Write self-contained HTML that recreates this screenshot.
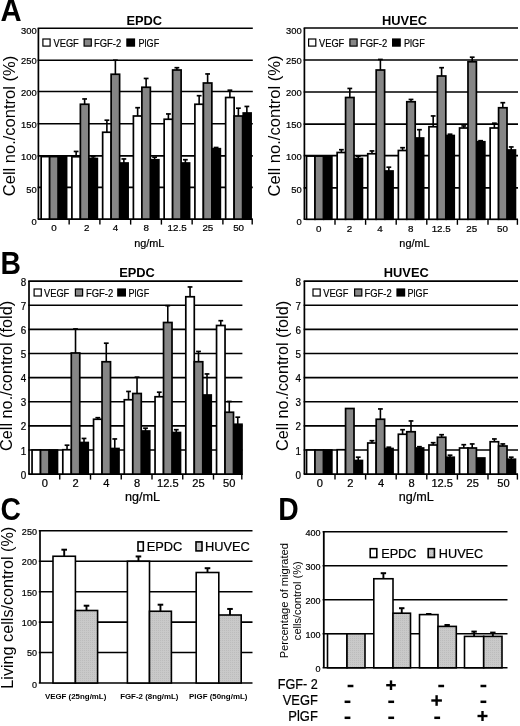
<!DOCTYPE html>
<html><head><meta charset="utf-8"><title>Figure</title>
<style>html,body{margin:0;padding:0;background:#fff}svg{display:block;filter:blur(0.3px)}text{font-family:"Liberation Sans",sans-serif;fill:#000}</style>
</head><body>
<svg width="520" height="726" viewBox="0 0 520 726">
<rect x="0" y="0" width="520" height="726" fill="#fff"/>
<defs><pattern id="dots" width="2" height="2" patternUnits="userSpaceOnUse"><rect width="2" height="2" fill="#c9c9c9"/><rect width="1" height="1" fill="#bcbcbc"/></pattern></defs>
<text x="0" y="0" font-size="29.2" text-anchor="start" font-weight="bold" transform="translate(0.40 20.90) scale(1.0 1.09)">A</text>
<text x="0" y="0" font-size="28.3" text-anchor="start" font-weight="bold" transform="translate(0.50 274.20) scale(1.0 1.13)">B</text>
<text x="0" y="0" font-size="28.3" text-anchor="start" font-weight="bold" transform="translate(0.40 519.70) scale(1.0 1.13)">C</text>
<text x="0" y="0" font-size="28.3" text-anchor="start" font-weight="bold" transform="translate(278.20 519.90) scale(1.0 1.13)">D</text>
<line x1="37.65" y1="28.30" x2="252.80" y2="28.30" stroke="#000" stroke-width="1.6"/>
<text x="0" y="0" font-size="9.9" text-anchor="end" stroke="#000" stroke-width="0.22" transform="translate(36.70 33.84) scale(0.95 1.0)">300</text>
<line x1="37.65" y1="60.20" x2="252.80" y2="60.20" stroke="#000" stroke-width="1.6"/>
<text x="0" y="0" font-size="9.9" text-anchor="end" stroke="#000" stroke-width="0.22" transform="translate(36.70 64.04) scale(0.95 1.0)">250</text>
<line x1="37.65" y1="91.50" x2="252.80" y2="91.50" stroke="#000" stroke-width="1.6"/>
<text x="0" y="0" font-size="9.9" text-anchor="end" stroke="#000" stroke-width="0.22" transform="translate(36.70 96.34) scale(0.95 1.0)">200</text>
<line x1="37.65" y1="123.70" x2="252.80" y2="123.70" stroke="#000" stroke-width="1.6"/>
<text x="0" y="0" font-size="9.9" text-anchor="end" stroke="#000" stroke-width="0.22" transform="translate(36.70 127.64) scale(0.95 1.0)">150</text>
<line x1="37.65" y1="155.90" x2="252.80" y2="155.90" stroke="#000" stroke-width="1.6"/>
<text x="0" y="0" font-size="9.9" text-anchor="end" stroke="#000" stroke-width="0.22" transform="translate(36.70 160.24) scale(0.95 1.0)">100</text>
<line x1="37.65" y1="187.40" x2="252.80" y2="187.40" stroke="#000" stroke-width="1.6"/>
<text x="0" y="0" font-size="9.9" text-anchor="end" stroke="#000" stroke-width="0.22" transform="translate(36.70 192.74) scale(0.95 1.0)">50</text>
<line x1="37.65" y1="219.10" x2="252.80" y2="219.10" stroke="#000" stroke-width="1.6"/>
<text x="0" y="0" font-size="9.9" text-anchor="end" stroke="#000" stroke-width="0.22" transform="translate(36.70 225.04) scale(0.95 1.0)">0</text>
<line x1="38.40" y1="28.30" x2="38.40" y2="219.10" stroke="#000" stroke-width="1.7"/>
<line x1="69.15" y1="219.10" x2="69.15" y2="224.60" stroke="#000" stroke-width="1.4"/>
<line x1="99.90" y1="219.10" x2="99.90" y2="224.60" stroke="#000" stroke-width="1.4"/>
<line x1="130.65" y1="219.10" x2="130.65" y2="224.60" stroke="#000" stroke-width="1.4"/>
<line x1="161.40" y1="219.10" x2="161.40" y2="224.60" stroke="#000" stroke-width="1.4"/>
<line x1="192.15" y1="219.10" x2="192.15" y2="224.60" stroke="#000" stroke-width="1.4"/>
<line x1="222.90" y1="219.10" x2="222.90" y2="224.60" stroke="#000" stroke-width="1.4"/>
<line x1="252.20" y1="219.10" x2="252.20" y2="224.60" stroke="#000" stroke-width="1.4"/>
<rect x="41.15" y="156.60" width="8.48" height="62.50" fill="#fff" stroke="#000" stroke-width="1.7"/>
<rect x="49.63" y="156.60" width="8.48" height="62.50" fill="#868686" stroke="#000" stroke-width="1.7"/>
<rect x="58.72" y="156.60" width="7.88" height="62.50" fill="#000" stroke="#000" stroke-width="1.7"/>
<text x="0" y="0" font-size="9.8" text-anchor="middle" stroke="#000" stroke-width="0.22" transform="translate(54.07 231.30)">0</text>
<rect x="71.90" y="156.75" width="8.48" height="62.35" fill="#fff" stroke="#000" stroke-width="1.7"/>
<rect x="80.38" y="104.25" width="8.48" height="114.85" fill="#868686" stroke="#000" stroke-width="1.7"/>
<rect x="89.47" y="158.50" width="7.88" height="60.60" fill="#000" stroke="#000" stroke-width="1.7"/>
<line x1="76.14" y1="151.25" x2="76.14" y2="156.75" stroke="#000" stroke-width="1.6"/>
<line x1="73.74" y1="151.45" x2="78.54" y2="151.45" stroke="#000" stroke-width="1.6800000000000002"/>
<line x1="84.62" y1="98.75" x2="84.62" y2="104.25" stroke="#000" stroke-width="1.6"/>
<line x1="82.22" y1="98.95" x2="87.03" y2="98.95" stroke="#000" stroke-width="1.6800000000000002"/>
<line x1="93.11" y1="156.50" x2="93.11" y2="158.50" stroke="#000" stroke-width="1.6"/>
<line x1="90.71" y1="156.70" x2="95.51" y2="156.70" stroke="#000" stroke-width="1.6800000000000002"/>
<text x="0" y="0" font-size="9.8" text-anchor="middle" stroke="#000" stroke-width="0.22" transform="translate(86.73 231.30)">2</text>
<rect x="102.65" y="132.25" width="8.48" height="86.85" fill="#fff" stroke="#000" stroke-width="1.7"/>
<rect x="111.13" y="74.25" width="8.48" height="144.85" fill="#868686" stroke="#000" stroke-width="1.7"/>
<rect x="120.22" y="163.00" width="7.88" height="56.10" fill="#000" stroke="#000" stroke-width="1.7"/>
<line x1="106.89" y1="120.00" x2="106.89" y2="132.25" stroke="#000" stroke-width="1.6"/>
<line x1="104.49" y1="120.20" x2="109.29" y2="120.20" stroke="#000" stroke-width="1.6800000000000002"/>
<line x1="115.38" y1="60.00" x2="115.38" y2="74.25" stroke="#000" stroke-width="1.6"/>
<line x1="112.97" y1="60.20" x2="117.78" y2="60.20" stroke="#000" stroke-width="1.6800000000000002"/>
<line x1="123.86" y1="158.75" x2="123.86" y2="163.00" stroke="#000" stroke-width="1.6"/>
<line x1="121.46" y1="158.95" x2="126.26" y2="158.95" stroke="#000" stroke-width="1.6800000000000002"/>
<text x="0" y="0" font-size="9.8" text-anchor="middle" stroke="#000" stroke-width="0.22" transform="translate(115.58 231.30)">4</text>
<rect x="133.40" y="116.00" width="8.48" height="103.10" fill="#fff" stroke="#000" stroke-width="1.7"/>
<rect x="141.88" y="87.25" width="8.48" height="131.85" fill="#868686" stroke="#000" stroke-width="1.7"/>
<rect x="150.97" y="159.75" width="7.88" height="59.35" fill="#000" stroke="#000" stroke-width="1.7"/>
<line x1="137.64" y1="107.50" x2="137.64" y2="116.00" stroke="#000" stroke-width="1.6"/>
<line x1="135.24" y1="107.70" x2="140.04" y2="107.70" stroke="#000" stroke-width="1.6800000000000002"/>
<line x1="146.12" y1="78.25" x2="146.12" y2="87.25" stroke="#000" stroke-width="1.6"/>
<line x1="143.72" y1="78.45" x2="148.53" y2="78.45" stroke="#000" stroke-width="1.6800000000000002"/>
<line x1="154.61" y1="157.00" x2="154.61" y2="159.75" stroke="#000" stroke-width="1.6"/>
<line x1="152.21" y1="157.20" x2="157.01" y2="157.20" stroke="#000" stroke-width="1.6800000000000002"/>
<text x="0" y="0" font-size="9.8" text-anchor="middle" stroke="#000" stroke-width="0.22" transform="translate(146.33 231.30)">8</text>
<rect x="164.15" y="119.25" width="8.48" height="99.85" fill="#fff" stroke="#000" stroke-width="1.7"/>
<rect x="172.63" y="70.00" width="8.48" height="149.10" fill="#868686" stroke="#000" stroke-width="1.7"/>
<rect x="181.72" y="163.00" width="7.88" height="56.10" fill="#000" stroke="#000" stroke-width="1.7"/>
<line x1="168.39" y1="113.75" x2="168.39" y2="119.25" stroke="#000" stroke-width="1.6"/>
<line x1="165.99" y1="113.95" x2="170.79" y2="113.95" stroke="#000" stroke-width="1.6800000000000002"/>
<line x1="176.88" y1="67.50" x2="176.88" y2="70.00" stroke="#000" stroke-width="1.6"/>
<line x1="174.47" y1="67.70" x2="179.28" y2="67.70" stroke="#000" stroke-width="1.6800000000000002"/>
<line x1="185.36" y1="159.50" x2="185.36" y2="163.00" stroke="#000" stroke-width="1.6"/>
<line x1="182.96" y1="159.70" x2="187.76" y2="159.70" stroke="#000" stroke-width="1.6800000000000002"/>
<text x="0" y="0" font-size="9.8" text-anchor="middle" stroke="#000" stroke-width="0.22" transform="translate(177.08 231.30)">12.5</text>
<rect x="194.90" y="104.25" width="8.48" height="114.85" fill="#fff" stroke="#000" stroke-width="1.7"/>
<rect x="203.38" y="83.00" width="8.48" height="136.10" fill="#868686" stroke="#000" stroke-width="1.7"/>
<rect x="212.47" y="148.70" width="7.88" height="70.40" fill="#000" stroke="#000" stroke-width="1.7"/>
<line x1="199.14" y1="95.50" x2="199.14" y2="104.25" stroke="#000" stroke-width="1.6"/>
<line x1="196.74" y1="95.70" x2="201.54" y2="95.70" stroke="#000" stroke-width="1.6800000000000002"/>
<line x1="207.62" y1="73.75" x2="207.62" y2="83.00" stroke="#000" stroke-width="1.6"/>
<line x1="205.22" y1="73.95" x2="210.03" y2="73.95" stroke="#000" stroke-width="1.6800000000000002"/>
<line x1="216.11" y1="147.30" x2="216.11" y2="148.70" stroke="#000" stroke-width="1.6"/>
<line x1="213.71" y1="147.50" x2="218.51" y2="147.50" stroke="#000" stroke-width="1.6800000000000002"/>
<text x="0" y="0" font-size="9.8" text-anchor="middle" stroke="#000" stroke-width="0.22" transform="translate(207.83 231.30)">25</text>
<rect x="225.65" y="97.50" width="8.48" height="121.60" fill="#fff" stroke="#000" stroke-width="1.7"/>
<rect x="234.13" y="116.00" width="8.48" height="103.10" fill="#868686" stroke="#000" stroke-width="1.7"/>
<rect x="243.22" y="113.00" width="7.88" height="106.10" fill="#000" stroke="#000" stroke-width="1.7"/>
<line x1="229.89" y1="90.00" x2="229.89" y2="97.50" stroke="#000" stroke-width="1.6"/>
<line x1="227.49" y1="90.20" x2="232.29" y2="90.20" stroke="#000" stroke-width="1.6800000000000002"/>
<line x1="238.38" y1="108.00" x2="238.38" y2="116.00" stroke="#000" stroke-width="1.6"/>
<line x1="235.97" y1="108.20" x2="240.78" y2="108.20" stroke="#000" stroke-width="1.6800000000000002"/>
<line x1="246.86" y1="106.25" x2="246.86" y2="113.00" stroke="#000" stroke-width="1.6"/>
<line x1="244.46" y1="106.45" x2="249.26" y2="106.45" stroke="#000" stroke-width="1.6800000000000002"/>
<text x="0" y="0" font-size="9.8" text-anchor="middle" stroke="#000" stroke-width="0.22" transform="translate(238.58 231.30)">50</text>
<line x1="303.65" y1="28.00" x2="518.00" y2="28.00" stroke="#000" stroke-width="1.6"/>
<text x="0" y="0" font-size="9.9" text-anchor="end" stroke="#000" stroke-width="0.22" transform="translate(301.70 33.84) scale(0.95 1.0)">300</text>
<line x1="303.65" y1="60.00" x2="518.00" y2="60.00" stroke="#000" stroke-width="1.6"/>
<text x="0" y="0" font-size="9.9" text-anchor="end" stroke="#000" stroke-width="0.22" transform="translate(301.70 64.04) scale(0.95 1.0)">250</text>
<line x1="303.65" y1="92.00" x2="518.00" y2="92.00" stroke="#000" stroke-width="1.6"/>
<text x="0" y="0" font-size="9.9" text-anchor="end" stroke="#000" stroke-width="0.22" transform="translate(301.70 96.34) scale(0.95 1.0)">200</text>
<line x1="303.65" y1="124.10" x2="518.00" y2="124.10" stroke="#000" stroke-width="1.6"/>
<text x="0" y="0" font-size="9.9" text-anchor="end" stroke="#000" stroke-width="0.22" transform="translate(301.70 127.64) scale(0.95 1.0)">150</text>
<line x1="303.65" y1="155.60" x2="518.00" y2="155.60" stroke="#000" stroke-width="1.6"/>
<text x="0" y="0" font-size="9.9" text-anchor="end" stroke="#000" stroke-width="0.22" transform="translate(301.70 160.24) scale(0.95 1.0)">100</text>
<line x1="303.65" y1="187.90" x2="518.00" y2="187.90" stroke="#000" stroke-width="1.6"/>
<text x="0" y="0" font-size="9.9" text-anchor="end" stroke="#000" stroke-width="0.22" transform="translate(301.70 192.74) scale(0.95 1.0)">50</text>
<line x1="303.65" y1="219.30" x2="518.00" y2="219.30" stroke="#000" stroke-width="1.6"/>
<text x="0" y="0" font-size="9.9" text-anchor="end" stroke="#000" stroke-width="0.22" transform="translate(301.70 225.04) scale(0.95 1.0)">0</text>
<line x1="304.40" y1="28.00" x2="304.40" y2="219.30" stroke="#000" stroke-width="1.7"/>
<line x1="335.00" y1="219.30" x2="335.00" y2="224.80" stroke="#000" stroke-width="1.4"/>
<line x1="365.60" y1="219.30" x2="365.60" y2="224.80" stroke="#000" stroke-width="1.4"/>
<line x1="396.20" y1="219.30" x2="396.20" y2="224.80" stroke="#000" stroke-width="1.4"/>
<line x1="426.80" y1="219.30" x2="426.80" y2="224.80" stroke="#000" stroke-width="1.4"/>
<line x1="457.40" y1="219.30" x2="457.40" y2="224.80" stroke="#000" stroke-width="1.4"/>
<line x1="488.00" y1="219.30" x2="488.00" y2="224.80" stroke="#000" stroke-width="1.4"/>
<line x1="517.40" y1="219.30" x2="517.40" y2="224.80" stroke="#000" stroke-width="1.4"/>
<rect x="306.55" y="156.10" width="8.43" height="63.20" fill="#fff" stroke="#000" stroke-width="1.7"/>
<rect x="314.98" y="156.10" width="8.43" height="63.20" fill="#868686" stroke="#000" stroke-width="1.7"/>
<rect x="324.02" y="156.10" width="7.83" height="63.20" fill="#000" stroke="#000" stroke-width="1.7"/>
<text x="0" y="0" font-size="9.8" text-anchor="middle" stroke="#000" stroke-width="0.22" transform="translate(318.80 231.60)">0</text>
<rect x="337.15" y="152.50" width="8.43" height="66.80" fill="#fff" stroke="#000" stroke-width="1.7"/>
<rect x="345.58" y="97.50" width="8.43" height="121.80" fill="#868686" stroke="#000" stroke-width="1.7"/>
<rect x="354.62" y="158.50" width="7.83" height="60.80" fill="#000" stroke="#000" stroke-width="1.7"/>
<line x1="341.37" y1="149.50" x2="341.37" y2="152.50" stroke="#000" stroke-width="1.6"/>
<line x1="338.97" y1="149.70" x2="343.77" y2="149.70" stroke="#000" stroke-width="1.6800000000000002"/>
<line x1="349.80" y1="88.25" x2="349.80" y2="97.50" stroke="#000" stroke-width="1.6"/>
<line x1="347.40" y1="88.45" x2="352.20" y2="88.45" stroke="#000" stroke-width="1.6800000000000002"/>
<line x1="358.23" y1="156.00" x2="358.23" y2="158.50" stroke="#000" stroke-width="1.6"/>
<line x1="355.83" y1="156.20" x2="360.63" y2="156.20" stroke="#000" stroke-width="1.6800000000000002"/>
<text x="0" y="0" font-size="9.8" text-anchor="middle" stroke="#000" stroke-width="0.22" transform="translate(349.40 231.60)">2</text>
<rect x="367.75" y="153.75" width="8.43" height="65.55" fill="#fff" stroke="#000" stroke-width="1.7"/>
<rect x="376.18" y="70.00" width="8.43" height="149.30" fill="#868686" stroke="#000" stroke-width="1.7"/>
<rect x="385.22" y="171.00" width="7.83" height="48.30" fill="#000" stroke="#000" stroke-width="1.7"/>
<line x1="371.97" y1="150.75" x2="371.97" y2="153.75" stroke="#000" stroke-width="1.6"/>
<line x1="369.57" y1="150.95" x2="374.37" y2="150.95" stroke="#000" stroke-width="1.6800000000000002"/>
<line x1="380.40" y1="59.25" x2="380.40" y2="70.00" stroke="#000" stroke-width="1.6"/>
<line x1="378.00" y1="59.45" x2="382.80" y2="59.45" stroke="#000" stroke-width="1.6800000000000002"/>
<line x1="388.83" y1="167.00" x2="388.83" y2="171.00" stroke="#000" stroke-width="1.6"/>
<line x1="386.43" y1="167.20" x2="391.23" y2="167.20" stroke="#000" stroke-width="1.6800000000000002"/>
<text x="0" y="0" font-size="9.8" text-anchor="middle" stroke="#000" stroke-width="0.22" transform="translate(380.00 231.60)">4</text>
<rect x="398.35" y="150.50" width="8.43" height="68.80" fill="#fff" stroke="#000" stroke-width="1.7"/>
<rect x="406.78" y="101.75" width="8.43" height="117.55" fill="#868686" stroke="#000" stroke-width="1.7"/>
<rect x="415.82" y="138.00" width="7.83" height="81.30" fill="#000" stroke="#000" stroke-width="1.7"/>
<line x1="402.57" y1="147.50" x2="402.57" y2="150.50" stroke="#000" stroke-width="1.6"/>
<line x1="400.17" y1="147.70" x2="404.97" y2="147.70" stroke="#000" stroke-width="1.6800000000000002"/>
<line x1="411.00" y1="99.25" x2="411.00" y2="101.75" stroke="#000" stroke-width="1.6"/>
<line x1="408.60" y1="99.45" x2="413.40" y2="99.45" stroke="#000" stroke-width="1.6800000000000002"/>
<line x1="419.43" y1="129.50" x2="419.43" y2="138.00" stroke="#000" stroke-width="1.6"/>
<line x1="417.03" y1="129.70" x2="421.83" y2="129.70" stroke="#000" stroke-width="1.6800000000000002"/>
<text x="0" y="0" font-size="9.8" text-anchor="middle" stroke="#000" stroke-width="0.22" transform="translate(410.60 231.60)">8</text>
<rect x="428.95" y="126.75" width="8.43" height="92.55" fill="#fff" stroke="#000" stroke-width="1.7"/>
<rect x="437.38" y="76.00" width="8.43" height="143.30" fill="#868686" stroke="#000" stroke-width="1.7"/>
<rect x="446.42" y="135.50" width="7.83" height="83.80" fill="#000" stroke="#000" stroke-width="1.7"/>
<line x1="433.17" y1="115.75" x2="433.17" y2="126.75" stroke="#000" stroke-width="1.6"/>
<line x1="430.77" y1="115.95" x2="435.57" y2="115.95" stroke="#000" stroke-width="1.6800000000000002"/>
<line x1="441.60" y1="67.50" x2="441.60" y2="76.00" stroke="#000" stroke-width="1.6"/>
<line x1="439.20" y1="67.70" x2="444.00" y2="67.70" stroke="#000" stroke-width="1.6800000000000002"/>
<line x1="450.03" y1="134.00" x2="450.03" y2="135.50" stroke="#000" stroke-width="1.6"/>
<line x1="447.63" y1="134.20" x2="452.43" y2="134.20" stroke="#000" stroke-width="1.6800000000000002"/>
<text x="0" y="0" font-size="9.8" text-anchor="middle" stroke="#000" stroke-width="0.22" transform="translate(441.20 231.60)">12.5</text>
<rect x="459.55" y="128.00" width="8.43" height="91.30" fill="#fff" stroke="#000" stroke-width="1.7"/>
<rect x="467.98" y="61.75" width="8.43" height="157.55" fill="#868686" stroke="#000" stroke-width="1.7"/>
<rect x="477.02" y="141.75" width="7.83" height="77.55" fill="#000" stroke="#000" stroke-width="1.7"/>
<line x1="463.77" y1="125.75" x2="463.77" y2="128.00" stroke="#000" stroke-width="1.6"/>
<line x1="461.37" y1="125.95" x2="466.17" y2="125.95" stroke="#000" stroke-width="1.6800000000000002"/>
<line x1="472.20" y1="57.00" x2="472.20" y2="61.75" stroke="#000" stroke-width="1.6"/>
<line x1="469.80" y1="57.20" x2="474.60" y2="57.20" stroke="#000" stroke-width="1.6800000000000002"/>
<line x1="480.63" y1="140.50" x2="480.63" y2="141.75" stroke="#000" stroke-width="1.6"/>
<line x1="478.23" y1="140.70" x2="483.03" y2="140.70" stroke="#000" stroke-width="1.6800000000000002"/>
<text x="0" y="0" font-size="9.8" text-anchor="middle" stroke="#000" stroke-width="0.22" transform="translate(471.80 231.60)">25</text>
<rect x="490.15" y="128.00" width="8.43" height="91.30" fill="#fff" stroke="#000" stroke-width="1.7"/>
<rect x="498.58" y="107.75" width="8.43" height="111.55" fill="#868686" stroke="#000" stroke-width="1.7"/>
<rect x="507.62" y="150.00" width="7.83" height="69.30" fill="#000" stroke="#000" stroke-width="1.7"/>
<line x1="494.37" y1="123.00" x2="494.37" y2="128.00" stroke="#000" stroke-width="1.6"/>
<line x1="491.97" y1="123.20" x2="496.77" y2="123.20" stroke="#000" stroke-width="1.6800000000000002"/>
<line x1="502.80" y1="102.50" x2="502.80" y2="107.75" stroke="#000" stroke-width="1.6"/>
<line x1="500.40" y1="102.70" x2="505.20" y2="102.70" stroke="#000" stroke-width="1.6800000000000002"/>
<line x1="511.23" y1="146.75" x2="511.23" y2="150.00" stroke="#000" stroke-width="1.6"/>
<line x1="508.83" y1="146.95" x2="513.63" y2="146.95" stroke="#000" stroke-width="1.6800000000000002"/>
<text x="0" y="0" font-size="9.8" text-anchor="middle" stroke="#000" stroke-width="0.22" transform="translate(502.40 231.60)">50</text>
<text x="0" y="0" font-size="13.4" text-anchor="middle" font-weight="bold" transform="translate(144.30 25.00) scale(0.96 1.0)">EPDC</text>
<text x="0" y="0" font-size="13.4" text-anchor="middle" font-weight="bold" transform="translate(404.50 25.00) scale(0.96 1.0)">HUVEC</text>
<text x="0" y="0" font-size="13.4" text-anchor="middle" font-weight="bold" transform="translate(137.00 276.60) scale(0.96 1.0)">EPDC</text>
<text x="0" y="0" font-size="13.4" text-anchor="middle" font-weight="bold" transform="translate(406.30 276.60) scale(0.96 1.0)">HUVEC</text>
<rect x="42.90" y="39.00" width="7.20" height="7.10" fill="#fff" stroke="#000" stroke-width="1.2"/>
<text x="53.50" y="46.60" font-size="10.6" textLength="25.3" lengthAdjust="spacingAndGlyphs" stroke="#000" stroke-width="0.2">VEGF</text>
<rect x="84.10" y="39.00" width="7.20" height="7.10" fill="#868686" stroke="#000" stroke-width="1.2"/>
<text x="94.00" y="46.60" font-size="10.6" textLength="27.2" lengthAdjust="spacingAndGlyphs" stroke="#000" stroke-width="0.2">FGF-2</text>
<rect x="126.90" y="39.00" width="7.60" height="7.10" fill="#000" stroke="#000" stroke-width="1.2"/>
<text x="138.50" y="46.60" font-size="10.6" textLength="20.7" lengthAdjust="spacingAndGlyphs" stroke="#000" stroke-width="0.2">PlGF</text>
<rect x="308.60" y="39.00" width="7.20" height="7.10" fill="#fff" stroke="#000" stroke-width="1.2"/>
<text x="319.00" y="46.60" font-size="10.6" textLength="25.3" lengthAdjust="spacingAndGlyphs" stroke="#000" stroke-width="0.2">VEGF</text>
<rect x="349.90" y="39.00" width="7.20" height="7.10" fill="#868686" stroke="#000" stroke-width="1.2"/>
<text x="360.00" y="46.60" font-size="10.6" textLength="27.2" lengthAdjust="spacingAndGlyphs" stroke="#000" stroke-width="0.2">FGF-2</text>
<rect x="392.60" y="39.00" width="7.60" height="7.10" fill="#000" stroke="#000" stroke-width="1.2"/>
<text x="404.00" y="46.60" font-size="10.6" textLength="20.7" lengthAdjust="spacingAndGlyphs" stroke="#000" stroke-width="0.2">PlGF</text>
<rect x="34.10" y="289.00" width="7.20" height="7.00" fill="#fff" stroke="#000" stroke-width="1.2"/>
<text x="44.00" y="296.50" font-size="10.6" textLength="25.3" lengthAdjust="spacingAndGlyphs" stroke="#000" stroke-width="0.2">VEGF</text>
<rect x="75.40" y="289.00" width="7.20" height="7.00" fill="#868686" stroke="#000" stroke-width="1.2"/>
<text x="86.00" y="296.50" font-size="10.6" textLength="27.2" lengthAdjust="spacingAndGlyphs" stroke="#000" stroke-width="0.2">FGF-2</text>
<rect x="117.80" y="289.00" width="7.60" height="7.00" fill="#000" stroke="#000" stroke-width="1.2"/>
<text x="128.50" y="296.50" font-size="10.6" textLength="20.7" lengthAdjust="spacingAndGlyphs" stroke="#000" stroke-width="0.2">PlGF</text>
<rect x="313.00" y="289.00" width="7.20" height="7.00" fill="#fff" stroke="#000" stroke-width="1.2"/>
<text x="323.20" y="296.50" font-size="10.6" textLength="25.3" lengthAdjust="spacingAndGlyphs" stroke="#000" stroke-width="0.2">VEGF</text>
<rect x="354.60" y="289.00" width="7.20" height="7.00" fill="#868686" stroke="#000" stroke-width="1.2"/>
<text x="364.50" y="296.50" font-size="10.6" textLength="27.2" lengthAdjust="spacingAndGlyphs" stroke="#000" stroke-width="0.2">FGF-2</text>
<rect x="397.00" y="289.00" width="7.60" height="7.00" fill="#000" stroke="#000" stroke-width="1.2"/>
<text x="407.50" y="296.50" font-size="10.6" textLength="20.7" lengthAdjust="spacingAndGlyphs" stroke="#000" stroke-width="0.2">PlGF</text>
<text x="0" y="0" font-size="10.9" text-anchor="middle" stroke="#000" stroke-width="0.22" transform="translate(149.30 246.70)">ng/mL</text>
<text x="0" y="0" font-size="10.9" text-anchor="middle" stroke="#000" stroke-width="0.22" transform="translate(414.50 246.90)">ng/mL</text>
<text x="0" y="0" font-size="12.6" text-anchor="middle" stroke="#000" stroke-width="0.22" transform="translate(142.50 501.00)">ng/mL</text>
<text x="0" y="0" font-size="12.6" text-anchor="middle" stroke="#000" stroke-width="0.22" transform="translate(416.20 501.00)">ng/mL</text>
<text x="0" y="0" font-size="16.5" text-anchor="middle" transform="translate(14.80 126.00) rotate(-90)">Cell no./control (%)</text>
<text x="0" y="0" font-size="16.6" text-anchor="middle" transform="translate(280.10 125.90) rotate(-90)">Cell no./control (%)</text>
<text x="0" y="0" font-size="16.3" text-anchor="middle" transform="translate(12.40 375.90) rotate(-90)">Cell no./control (fold)</text>
<text x="0" y="0" font-size="16.3" text-anchor="middle" transform="translate(287.70 375.90) rotate(-90)">Cell no./control (fold)</text>
<line x1="28.25" y1="281.10" x2="242.40" y2="281.10" stroke="#000" stroke-width="1.6"/>
<text x="0" y="0" font-size="10.4" text-anchor="end" stroke="#000" stroke-width="0.22" transform="translate(26.30 285.62) scale(0.95 1.0)">8</text>
<line x1="28.25" y1="305.23" x2="242.40" y2="305.23" stroke="#000" stroke-width="1.6"/>
<text x="0" y="0" font-size="10.4" text-anchor="end" stroke="#000" stroke-width="0.22" transform="translate(26.30 309.75) scale(0.95 1.0)">7</text>
<line x1="28.25" y1="329.35" x2="242.40" y2="329.35" stroke="#000" stroke-width="1.6"/>
<text x="0" y="0" font-size="10.4" text-anchor="end" stroke="#000" stroke-width="0.22" transform="translate(26.30 333.87) scale(0.95 1.0)">6</text>
<line x1="28.25" y1="353.48" x2="242.40" y2="353.48" stroke="#000" stroke-width="1.6"/>
<text x="0" y="0" font-size="10.4" text-anchor="end" stroke="#000" stroke-width="0.22" transform="translate(26.30 358.00) scale(0.95 1.0)">5</text>
<line x1="28.25" y1="377.60" x2="242.40" y2="377.60" stroke="#000" stroke-width="1.6"/>
<text x="0" y="0" font-size="10.4" text-anchor="end" stroke="#000" stroke-width="0.22" transform="translate(26.30 382.12) scale(0.95 1.0)">4</text>
<line x1="28.25" y1="401.73" x2="242.40" y2="401.73" stroke="#000" stroke-width="1.6"/>
<text x="0" y="0" font-size="10.4" text-anchor="end" stroke="#000" stroke-width="0.22" transform="translate(26.30 406.25) scale(0.95 1.0)">3</text>
<line x1="28.25" y1="425.85" x2="242.40" y2="425.85" stroke="#000" stroke-width="1.6"/>
<text x="0" y="0" font-size="10.4" text-anchor="end" stroke="#000" stroke-width="0.22" transform="translate(26.30 430.37) scale(0.95 1.0)">2</text>
<line x1="28.25" y1="449.98" x2="242.40" y2="449.98" stroke="#000" stroke-width="1.6"/>
<text x="0" y="0" font-size="10.4" text-anchor="end" stroke="#000" stroke-width="0.22" transform="translate(26.30 454.50) scale(0.95 1.0)">1</text>
<line x1="28.25" y1="474.10" x2="242.40" y2="474.10" stroke="#000" stroke-width="1.6"/>
<text x="0" y="0" font-size="10.4" text-anchor="end" stroke="#000" stroke-width="0.22" transform="translate(26.30 478.62) scale(0.95 1.0)">0</text>
<line x1="29.00" y1="281.10" x2="29.00" y2="474.10" stroke="#000" stroke-width="1.7"/>
<line x1="59.75" y1="474.10" x2="59.75" y2="479.60" stroke="#000" stroke-width="1.4"/>
<line x1="90.50" y1="474.10" x2="90.50" y2="479.60" stroke="#000" stroke-width="1.4"/>
<line x1="121.25" y1="474.10" x2="121.25" y2="479.60" stroke="#000" stroke-width="1.4"/>
<line x1="152.00" y1="474.10" x2="152.00" y2="479.60" stroke="#000" stroke-width="1.4"/>
<line x1="182.75" y1="474.10" x2="182.75" y2="479.60" stroke="#000" stroke-width="1.4"/>
<line x1="213.50" y1="474.10" x2="213.50" y2="479.60" stroke="#000" stroke-width="1.4"/>
<line x1="241.80" y1="474.10" x2="241.80" y2="479.60" stroke="#000" stroke-width="1.4"/>
<rect x="32.05" y="450.00" width="8.48" height="24.10" fill="#fff" stroke="#000" stroke-width="1.7"/>
<rect x="40.53" y="450.00" width="8.48" height="24.10" fill="#868686" stroke="#000" stroke-width="1.7"/>
<rect x="49.62" y="450.00" width="7.88" height="24.10" fill="#000" stroke="#000" stroke-width="1.7"/>
<text x="0" y="0" font-size="10.3" text-anchor="middle" stroke="#000" stroke-width="0.22" transform="translate(44.77 486.70) scale(1.08 1.0)">0</text>
<rect x="62.80" y="449.75" width="8.48" height="24.35" fill="#fff" stroke="#000" stroke-width="1.7"/>
<rect x="71.28" y="353.00" width="8.48" height="121.10" fill="#868686" stroke="#000" stroke-width="1.7"/>
<rect x="80.37" y="442.50" width="7.88" height="31.60" fill="#000" stroke="#000" stroke-width="1.7"/>
<line x1="67.04" y1="445.00" x2="67.04" y2="449.75" stroke="#000" stroke-width="1.6"/>
<line x1="64.64" y1="445.20" x2="69.44" y2="445.20" stroke="#000" stroke-width="1.6800000000000002"/>
<line x1="75.52" y1="328.75" x2="75.52" y2="353.00" stroke="#000" stroke-width="1.6"/>
<line x1="73.12" y1="328.95" x2="77.92" y2="328.95" stroke="#000" stroke-width="1.6800000000000002"/>
<line x1="84.01" y1="438.25" x2="84.01" y2="442.50" stroke="#000" stroke-width="1.6"/>
<line x1="81.61" y1="438.45" x2="86.41" y2="438.45" stroke="#000" stroke-width="1.6800000000000002"/>
<text x="0" y="0" font-size="10.3" text-anchor="middle" stroke="#000" stroke-width="0.22" transform="translate(75.53 486.70) scale(1.08 1.0)">2</text>
<rect x="93.55" y="419.25" width="8.48" height="54.85" fill="#fff" stroke="#000" stroke-width="1.7"/>
<rect x="102.03" y="361.75" width="8.48" height="112.35" fill="#868686" stroke="#000" stroke-width="1.7"/>
<rect x="111.12" y="448.50" width="7.88" height="25.60" fill="#000" stroke="#000" stroke-width="1.7"/>
<line x1="97.79" y1="417.50" x2="97.79" y2="419.25" stroke="#000" stroke-width="1.6"/>
<line x1="95.39" y1="417.70" x2="100.19" y2="417.70" stroke="#000" stroke-width="1.6800000000000002"/>
<line x1="106.27" y1="343.00" x2="106.27" y2="361.75" stroke="#000" stroke-width="1.6"/>
<line x1="103.87" y1="343.20" x2="108.67" y2="343.20" stroke="#000" stroke-width="1.6800000000000002"/>
<line x1="114.76" y1="438.75" x2="114.76" y2="448.50" stroke="#000" stroke-width="1.6"/>
<line x1="112.36" y1="438.95" x2="117.16" y2="438.95" stroke="#000" stroke-width="1.6800000000000002"/>
<text x="0" y="0" font-size="10.3" text-anchor="middle" stroke="#000" stroke-width="0.22" transform="translate(106.28 486.70) scale(1.08 1.0)">4</text>
<rect x="124.30" y="399.75" width="8.48" height="74.35" fill="#fff" stroke="#000" stroke-width="1.7"/>
<rect x="132.78" y="393.50" width="8.48" height="80.60" fill="#868686" stroke="#000" stroke-width="1.7"/>
<rect x="141.87" y="431.00" width="7.88" height="43.10" fill="#000" stroke="#000" stroke-width="1.7"/>
<line x1="128.54" y1="391.25" x2="128.54" y2="399.75" stroke="#000" stroke-width="1.6"/>
<line x1="126.14" y1="391.45" x2="130.94" y2="391.45" stroke="#000" stroke-width="1.6800000000000002"/>
<line x1="137.03" y1="377.00" x2="137.03" y2="393.50" stroke="#000" stroke-width="1.6"/>
<line x1="134.62" y1="377.20" x2="139.43" y2="377.20" stroke="#000" stroke-width="1.6800000000000002"/>
<line x1="145.51" y1="428.00" x2="145.51" y2="431.00" stroke="#000" stroke-width="1.6"/>
<line x1="143.11" y1="428.20" x2="147.91" y2="428.20" stroke="#000" stroke-width="1.6800000000000002"/>
<text x="0" y="0" font-size="10.3" text-anchor="middle" stroke="#000" stroke-width="0.22" transform="translate(137.03 486.70) scale(1.08 1.0)">8</text>
<rect x="155.05" y="396.75" width="8.48" height="77.35" fill="#fff" stroke="#000" stroke-width="1.7"/>
<rect x="163.53" y="322.50" width="8.48" height="151.60" fill="#868686" stroke="#000" stroke-width="1.7"/>
<rect x="172.62" y="432.50" width="7.88" height="41.60" fill="#000" stroke="#000" stroke-width="1.7"/>
<line x1="159.29" y1="392.00" x2="159.29" y2="396.75" stroke="#000" stroke-width="1.6"/>
<line x1="156.89" y1="392.20" x2="161.69" y2="392.20" stroke="#000" stroke-width="1.6800000000000002"/>
<line x1="167.77" y1="305.50" x2="167.77" y2="322.50" stroke="#000" stroke-width="1.6"/>
<line x1="165.37" y1="305.70" x2="170.17" y2="305.70" stroke="#000" stroke-width="1.6800000000000002"/>
<line x1="176.26" y1="429.50" x2="176.26" y2="432.50" stroke="#000" stroke-width="1.6"/>
<line x1="173.86" y1="429.70" x2="178.66" y2="429.70" stroke="#000" stroke-width="1.6800000000000002"/>
<text x="0" y="0" font-size="10.3" text-anchor="middle" stroke="#000" stroke-width="0.22" transform="translate(167.78 486.70) scale(1.08 1.0)">12.5</text>
<rect x="185.80" y="296.75" width="8.48" height="177.35" fill="#fff" stroke="#000" stroke-width="1.7"/>
<rect x="194.28" y="361.75" width="8.48" height="112.35" fill="#868686" stroke="#000" stroke-width="1.7"/>
<rect x="203.37" y="395.00" width="7.88" height="79.10" fill="#000" stroke="#000" stroke-width="1.7"/>
<line x1="190.04" y1="286.75" x2="190.04" y2="296.75" stroke="#000" stroke-width="1.6"/>
<line x1="187.64" y1="286.95" x2="192.44" y2="286.95" stroke="#000" stroke-width="1.6800000000000002"/>
<line x1="198.52" y1="351.25" x2="198.52" y2="361.75" stroke="#000" stroke-width="1.6"/>
<line x1="196.12" y1="351.45" x2="200.92" y2="351.45" stroke="#000" stroke-width="1.6800000000000002"/>
<line x1="207.01" y1="373.75" x2="207.01" y2="395.00" stroke="#000" stroke-width="1.6"/>
<line x1="204.61" y1="373.95" x2="209.41" y2="373.95" stroke="#000" stroke-width="1.6800000000000002"/>
<text x="0" y="0" font-size="10.3" text-anchor="middle" stroke="#000" stroke-width="0.22" transform="translate(198.53 486.70) scale(1.08 1.0)">25</text>
<rect x="216.55" y="325.50" width="8.48" height="148.60" fill="#fff" stroke="#000" stroke-width="1.7"/>
<rect x="225.03" y="412.25" width="8.48" height="61.85" fill="#868686" stroke="#000" stroke-width="1.7"/>
<rect x="234.12" y="424.25" width="7.88" height="49.85" fill="#000" stroke="#000" stroke-width="1.7"/>
<line x1="220.79" y1="320.50" x2="220.79" y2="325.50" stroke="#000" stroke-width="1.6"/>
<line x1="218.39" y1="320.70" x2="223.19" y2="320.70" stroke="#000" stroke-width="1.6800000000000002"/>
<line x1="229.27" y1="401.25" x2="229.27" y2="412.25" stroke="#000" stroke-width="1.6"/>
<line x1="226.87" y1="401.45" x2="231.67" y2="401.45" stroke="#000" stroke-width="1.6800000000000002"/>
<line x1="237.76" y1="417.00" x2="237.76" y2="424.25" stroke="#000" stroke-width="1.6"/>
<line x1="235.36" y1="417.20" x2="240.16" y2="417.20" stroke="#000" stroke-width="1.6800000000000002"/>
<text x="0" y="0" font-size="10.3" text-anchor="middle" stroke="#000" stroke-width="0.22" transform="translate(229.28 486.70) scale(1.08 1.0)">50</text>
<line x1="303.65" y1="281.10" x2="518.00" y2="281.10" stroke="#000" stroke-width="1.6"/>
<text x="0" y="0" font-size="10.4" text-anchor="end" stroke="#000" stroke-width="0.22" transform="translate(301.00 285.62) scale(0.95 1.0)">8</text>
<line x1="303.65" y1="305.23" x2="518.00" y2="305.23" stroke="#000" stroke-width="1.6"/>
<text x="0" y="0" font-size="10.4" text-anchor="end" stroke="#000" stroke-width="0.22" transform="translate(301.00 309.75) scale(0.95 1.0)">7</text>
<line x1="303.65" y1="329.35" x2="518.00" y2="329.35" stroke="#000" stroke-width="1.6"/>
<text x="0" y="0" font-size="10.4" text-anchor="end" stroke="#000" stroke-width="0.22" transform="translate(301.00 333.87) scale(0.95 1.0)">6</text>
<line x1="303.65" y1="353.48" x2="518.00" y2="353.48" stroke="#000" stroke-width="1.6"/>
<text x="0" y="0" font-size="10.4" text-anchor="end" stroke="#000" stroke-width="0.22" transform="translate(301.00 358.00) scale(0.95 1.0)">5</text>
<line x1="303.65" y1="377.60" x2="518.00" y2="377.60" stroke="#000" stroke-width="1.6"/>
<text x="0" y="0" font-size="10.4" text-anchor="end" stroke="#000" stroke-width="0.22" transform="translate(301.00 382.12) scale(0.95 1.0)">4</text>
<line x1="303.65" y1="401.73" x2="518.00" y2="401.73" stroke="#000" stroke-width="1.6"/>
<text x="0" y="0" font-size="10.4" text-anchor="end" stroke="#000" stroke-width="0.22" transform="translate(301.00 406.25) scale(0.95 1.0)">3</text>
<line x1="303.65" y1="425.85" x2="518.00" y2="425.85" stroke="#000" stroke-width="1.6"/>
<text x="0" y="0" font-size="10.4" text-anchor="end" stroke="#000" stroke-width="0.22" transform="translate(301.00 430.37) scale(0.95 1.0)">2</text>
<line x1="303.65" y1="449.98" x2="518.00" y2="449.98" stroke="#000" stroke-width="1.6"/>
<text x="0" y="0" font-size="10.4" text-anchor="end" stroke="#000" stroke-width="0.22" transform="translate(301.00 454.50) scale(0.95 1.0)">1</text>
<line x1="303.65" y1="474.10" x2="518.00" y2="474.10" stroke="#000" stroke-width="1.6"/>
<text x="0" y="0" font-size="10.4" text-anchor="end" stroke="#000" stroke-width="0.22" transform="translate(301.00 478.62) scale(0.95 1.0)">0</text>
<line x1="304.40" y1="281.10" x2="304.40" y2="474.10" stroke="#000" stroke-width="1.7"/>
<line x1="335.00" y1="474.10" x2="335.00" y2="479.60" stroke="#000" stroke-width="1.4"/>
<line x1="365.60" y1="474.10" x2="365.60" y2="479.60" stroke="#000" stroke-width="1.4"/>
<line x1="396.20" y1="474.10" x2="396.20" y2="479.60" stroke="#000" stroke-width="1.4"/>
<line x1="426.80" y1="474.10" x2="426.80" y2="479.60" stroke="#000" stroke-width="1.4"/>
<line x1="457.40" y1="474.10" x2="457.40" y2="479.60" stroke="#000" stroke-width="1.4"/>
<line x1="488.00" y1="474.10" x2="488.00" y2="479.60" stroke="#000" stroke-width="1.4"/>
<line x1="517.40" y1="474.10" x2="517.40" y2="479.60" stroke="#000" stroke-width="1.4"/>
<rect x="306.55" y="450.00" width="8.43" height="24.10" fill="#fff" stroke="#000" stroke-width="1.7"/>
<rect x="314.98" y="450.00" width="8.43" height="24.10" fill="#868686" stroke="#000" stroke-width="1.7"/>
<rect x="324.02" y="450.00" width="7.83" height="24.10" fill="#000" stroke="#000" stroke-width="1.7"/>
<text x="0" y="0" font-size="10.3" text-anchor="middle" stroke="#000" stroke-width="0.22" transform="translate(319.80 486.70) scale(1.08 1.0)">0</text>
<rect x="337.15" y="449.75" width="8.43" height="24.35" fill="#fff" stroke="#000" stroke-width="1.7"/>
<rect x="345.58" y="408.50" width="8.43" height="65.60" fill="#868686" stroke="#000" stroke-width="1.7"/>
<rect x="354.62" y="460.50" width="7.83" height="13.60" fill="#000" stroke="#000" stroke-width="1.7"/>
<line x1="358.23" y1="457.00" x2="358.23" y2="460.50" stroke="#000" stroke-width="1.6"/>
<line x1="355.83" y1="457.20" x2="360.63" y2="457.20" stroke="#000" stroke-width="1.6800000000000002"/>
<text x="0" y="0" font-size="10.3" text-anchor="middle" stroke="#000" stroke-width="0.22" transform="translate(350.40 486.70) scale(1.08 1.0)">2</text>
<rect x="367.75" y="443.00" width="8.43" height="31.10" fill="#fff" stroke="#000" stroke-width="1.7"/>
<rect x="376.18" y="419.25" width="8.43" height="54.85" fill="#868686" stroke="#000" stroke-width="1.7"/>
<rect x="385.22" y="448.50" width="7.83" height="25.60" fill="#000" stroke="#000" stroke-width="1.7"/>
<line x1="371.97" y1="440.50" x2="371.97" y2="443.00" stroke="#000" stroke-width="1.6"/>
<line x1="369.57" y1="440.70" x2="374.37" y2="440.70" stroke="#000" stroke-width="1.6800000000000002"/>
<line x1="380.40" y1="408.75" x2="380.40" y2="419.25" stroke="#000" stroke-width="1.6"/>
<line x1="378.00" y1="408.95" x2="382.80" y2="408.95" stroke="#000" stroke-width="1.6800000000000002"/>
<line x1="388.83" y1="447.00" x2="388.83" y2="448.50" stroke="#000" stroke-width="1.6"/>
<line x1="386.43" y1="447.20" x2="391.23" y2="447.20" stroke="#000" stroke-width="1.6800000000000002"/>
<text x="0" y="0" font-size="10.3" text-anchor="middle" stroke="#000" stroke-width="0.22" transform="translate(381.00 486.70) scale(1.08 1.0)">4</text>
<rect x="398.35" y="434.25" width="8.43" height="39.85" fill="#fff" stroke="#000" stroke-width="1.7"/>
<rect x="406.78" y="431.75" width="8.43" height="42.35" fill="#868686" stroke="#000" stroke-width="1.7"/>
<rect x="415.82" y="448.00" width="7.83" height="26.10" fill="#000" stroke="#000" stroke-width="1.7"/>
<line x1="402.57" y1="429.50" x2="402.57" y2="434.25" stroke="#000" stroke-width="1.6"/>
<line x1="400.17" y1="429.70" x2="404.97" y2="429.70" stroke="#000" stroke-width="1.6800000000000002"/>
<line x1="411.00" y1="420.75" x2="411.00" y2="431.75" stroke="#000" stroke-width="1.6"/>
<line x1="408.60" y1="420.95" x2="413.40" y2="420.95" stroke="#000" stroke-width="1.6800000000000002"/>
<line x1="419.43" y1="446.50" x2="419.43" y2="448.00" stroke="#000" stroke-width="1.6"/>
<line x1="417.03" y1="446.70" x2="421.83" y2="446.70" stroke="#000" stroke-width="1.6800000000000002"/>
<text x="0" y="0" font-size="10.3" text-anchor="middle" stroke="#000" stroke-width="0.22" transform="translate(411.60 486.70) scale(1.08 1.0)">8</text>
<rect x="428.95" y="445.00" width="8.43" height="29.10" fill="#fff" stroke="#000" stroke-width="1.7"/>
<rect x="437.38" y="437.25" width="8.43" height="36.85" fill="#868686" stroke="#000" stroke-width="1.7"/>
<rect x="446.42" y="457.25" width="7.83" height="16.85" fill="#000" stroke="#000" stroke-width="1.7"/>
<line x1="433.17" y1="442.50" x2="433.17" y2="445.00" stroke="#000" stroke-width="1.6"/>
<line x1="430.77" y1="442.70" x2="435.57" y2="442.70" stroke="#000" stroke-width="1.6800000000000002"/>
<line x1="441.60" y1="434.50" x2="441.60" y2="437.25" stroke="#000" stroke-width="1.6"/>
<line x1="439.20" y1="434.70" x2="444.00" y2="434.70" stroke="#000" stroke-width="1.6800000000000002"/>
<line x1="450.03" y1="455.00" x2="450.03" y2="457.25" stroke="#000" stroke-width="1.6"/>
<line x1="447.63" y1="455.20" x2="452.43" y2="455.20" stroke="#000" stroke-width="1.6800000000000002"/>
<text x="0" y="0" font-size="10.3" text-anchor="middle" stroke="#000" stroke-width="0.22" transform="translate(442.20 486.70) scale(1.08 1.0)">12.5</text>
<rect x="459.55" y="448.00" width="8.43" height="26.10" fill="#fff" stroke="#000" stroke-width="1.7"/>
<rect x="467.98" y="448.00" width="8.43" height="26.10" fill="#868686" stroke="#000" stroke-width="1.7"/>
<rect x="477.02" y="458.00" width="7.83" height="16.10" fill="#000" stroke="#000" stroke-width="1.7"/>
<line x1="463.77" y1="444.50" x2="463.77" y2="448.00" stroke="#000" stroke-width="1.6"/>
<line x1="461.37" y1="444.70" x2="466.17" y2="444.70" stroke="#000" stroke-width="1.6800000000000002"/>
<line x1="472.20" y1="443.75" x2="472.20" y2="448.00" stroke="#000" stroke-width="1.6"/>
<line x1="469.80" y1="443.95" x2="474.60" y2="443.95" stroke="#000" stroke-width="1.6800000000000002"/>
<text x="0" y="0" font-size="10.3" text-anchor="middle" stroke="#000" stroke-width="0.22" transform="translate(472.80 486.70) scale(1.08 1.0)">25</text>
<rect x="490.15" y="441.75" width="8.43" height="32.35" fill="#fff" stroke="#000" stroke-width="1.7"/>
<rect x="498.58" y="446.00" width="8.43" height="28.10" fill="#868686" stroke="#000" stroke-width="1.7"/>
<rect x="507.62" y="459.25" width="7.83" height="14.85" fill="#000" stroke="#000" stroke-width="1.7"/>
<line x1="494.37" y1="438.75" x2="494.37" y2="441.75" stroke="#000" stroke-width="1.6"/>
<line x1="491.97" y1="438.95" x2="496.77" y2="438.95" stroke="#000" stroke-width="1.6800000000000002"/>
<line x1="502.80" y1="443.75" x2="502.80" y2="446.00" stroke="#000" stroke-width="1.6"/>
<line x1="500.40" y1="443.95" x2="505.20" y2="443.95" stroke="#000" stroke-width="1.6800000000000002"/>
<line x1="511.23" y1="457.00" x2="511.23" y2="459.25" stroke="#000" stroke-width="1.6"/>
<line x1="508.83" y1="457.20" x2="513.63" y2="457.20" stroke="#000" stroke-width="1.6800000000000002"/>
<text x="0" y="0" font-size="10.3" text-anchor="middle" stroke="#000" stroke-width="0.22" transform="translate(503.40 486.70) scale(1.08 1.0)">50</text>
<line x1="38.80" y1="530.80" x2="252.50" y2="530.80" stroke="#000" stroke-width="1.6"/>
<text x="0" y="0" font-size="9.6" text-anchor="end" stroke="#000" stroke-width="0.22" transform="translate(36.90 534.70) scale(0.94 1.0)">250</text>
<line x1="38.80" y1="561.24" x2="252.50" y2="561.24" stroke="#000" stroke-width="1.6"/>
<text x="0" y="0" font-size="9.6" text-anchor="end" stroke="#000" stroke-width="0.22" transform="translate(36.90 565.14) scale(0.94 1.0)">200</text>
<line x1="38.80" y1="591.68" x2="252.50" y2="591.68" stroke="#000" stroke-width="1.6"/>
<text x="0" y="0" font-size="9.6" text-anchor="end" stroke="#000" stroke-width="0.22" transform="translate(36.90 595.58) scale(0.94 1.0)">150</text>
<line x1="38.80" y1="622.12" x2="252.50" y2="622.12" stroke="#000" stroke-width="1.6"/>
<text x="0" y="0" font-size="9.6" text-anchor="end" stroke="#000" stroke-width="0.22" transform="translate(36.90 626.02) scale(0.94 1.0)">100</text>
<line x1="38.80" y1="652.56" x2="252.50" y2="652.56" stroke="#000" stroke-width="1.6"/>
<text x="0" y="0" font-size="9.6" text-anchor="end" stroke="#000" stroke-width="0.22" transform="translate(36.90 656.46) scale(0.94 1.0)">50</text>
<line x1="38.80" y1="683.00" x2="252.50" y2="683.00" stroke="#000" stroke-width="1.6"/>
<text x="0" y="0" font-size="9.6" text-anchor="end" stroke="#000" stroke-width="0.22" transform="translate(36.90 688.00) scale(0.94 1.0)">0</text>
<line x1="40.00" y1="530.80" x2="40.00" y2="683.00" stroke="#000" stroke-width="1.7"/>
<rect x="53.00" y="556.25" width="22.40" height="126.75" fill="#fff" stroke="#000" stroke-width="1.6"/>
<rect x="75.40" y="610.50" width="22.20" height="72.50" fill="url(#dots)" stroke="#000" stroke-width="1.6"/>
<line x1="64.20" y1="549.50" x2="64.20" y2="556.25" stroke="#000" stroke-width="1.9"/>
<line x1="61.40" y1="549.70" x2="67.00" y2="549.70" stroke="#000" stroke-width="1.9949999999999999"/>
<line x1="86.50" y1="605.50" x2="86.50" y2="610.50" stroke="#000" stroke-width="1.9"/>
<line x1="83.70" y1="605.70" x2="89.30" y2="605.70" stroke="#000" stroke-width="1.9949999999999999"/>
<rect x="127.40" y="561.25" width="22.10" height="121.75" fill="#fff" stroke="#000" stroke-width="1.6"/>
<rect x="149.50" y="611.25" width="21.90" height="71.75" fill="url(#dots)" stroke="#000" stroke-width="1.6"/>
<line x1="138.45" y1="556.25" x2="138.45" y2="561.25" stroke="#000" stroke-width="1.9"/>
<line x1="135.65" y1="556.45" x2="141.25" y2="556.45" stroke="#000" stroke-width="1.9949999999999999"/>
<line x1="160.45" y1="604.50" x2="160.45" y2="611.25" stroke="#000" stroke-width="1.9"/>
<line x1="157.65" y1="604.70" x2="163.25" y2="604.70" stroke="#000" stroke-width="1.9949999999999999"/>
<rect x="196.20" y="572.50" width="22.60" height="110.50" fill="#fff" stroke="#000" stroke-width="1.6"/>
<rect x="218.80" y="615.00" width="22.40" height="68.00" fill="url(#dots)" stroke="#000" stroke-width="1.6"/>
<line x1="207.50" y1="568.00" x2="207.50" y2="572.50" stroke="#000" stroke-width="1.9"/>
<line x1="204.70" y1="568.20" x2="210.30" y2="568.20" stroke="#000" stroke-width="1.9949999999999999"/>
<line x1="230.00" y1="608.75" x2="230.00" y2="615.00" stroke="#000" stroke-width="1.9"/>
<line x1="227.20" y1="608.95" x2="232.80" y2="608.95" stroke="#000" stroke-width="1.9949999999999999"/>
<text x="0" y="0" font-size="7.9" text-anchor="middle" font-weight="bold" transform="translate(75.60 698.60)">VEGF (25ng/mL)</text>
<text x="0" y="0" font-size="7.9" text-anchor="middle" font-weight="bold" transform="translate(149.30 698.60)">FGF-2 (8ng/mL)</text>
<text x="0" y="0" font-size="7.9" text-anchor="middle" font-weight="bold" transform="translate(218.20 698.60)">PlGF (50ng/mL)</text>
<text x="0" y="0" font-size="16.2" text-anchor="middle" transform="translate(13.20 607.70) rotate(-90)">Living cells/control (%)</text>
<rect x="138.00" y="541.90" width="5.30" height="9.00" fill="#fff" stroke="#000" stroke-width="1.6"/>
<text x="0" y="0" font-size="12.8" text-anchor="start" stroke="#000" stroke-width="0.22" transform="translate(146.70 550.80)">EPDC</text>
<rect x="196.00" y="541.90" width="6.00" height="9.00" fill="url(#dots)" stroke="#000" stroke-width="1.6"/>
<text x="0" y="0" font-size="12.8" text-anchor="start" stroke="#000" stroke-width="0.22" transform="translate(204.90 550.80)">HUVEC</text>
<line x1="322.60" y1="531.80" x2="507.50" y2="531.80" stroke="#000" stroke-width="1.6"/>
<text x="0" y="0" font-size="9.6" text-anchor="end" stroke="#000" stroke-width="0.22" transform="translate(320.50 536.30) scale(0.94 1.0)">400</text>
<line x1="322.60" y1="565.80" x2="507.50" y2="565.80" stroke="#000" stroke-width="1.6"/>
<text x="0" y="0" font-size="9.6" text-anchor="end" stroke="#000" stroke-width="0.22" transform="translate(320.50 570.30) scale(0.94 1.0)">300</text>
<line x1="322.60" y1="599.80" x2="507.50" y2="599.80" stroke="#000" stroke-width="1.6"/>
<text x="0" y="0" font-size="9.6" text-anchor="end" stroke="#000" stroke-width="0.22" transform="translate(320.50 604.30) scale(0.94 1.0)">200</text>
<line x1="322.60" y1="633.80" x2="507.50" y2="633.80" stroke="#000" stroke-width="1.6"/>
<text x="0" y="0" font-size="9.6" text-anchor="end" stroke="#000" stroke-width="0.22" transform="translate(320.50 638.30) scale(0.94 1.0)">100</text>
<line x1="322.60" y1="667.80" x2="507.50" y2="667.80" stroke="#000" stroke-width="1.6"/>
<text x="0" y="0" font-size="9.6" text-anchor="end" stroke="#000" stroke-width="0.22" transform="translate(320.50 672.30) scale(0.94 1.0)">0</text>
<line x1="323.80" y1="531.80" x2="323.80" y2="667.80" stroke="#000" stroke-width="1.8"/>
<rect x="327.50" y="633.80" width="19.50" height="34.00" fill="#fff" stroke="#000" stroke-width="1.6"/>
<rect x="347.00" y="633.80" width="18.00" height="34.00" fill="url(#dots)" stroke="#000" stroke-width="1.6"/>
<rect x="373.80" y="578.75" width="19.20" height="89.05" fill="#fff" stroke="#000" stroke-width="1.6"/>
<rect x="393.00" y="613.20" width="17.50" height="54.60" fill="url(#dots)" stroke="#000" stroke-width="1.6"/>
<line x1="383.40" y1="573.00" x2="383.40" y2="578.75" stroke="#000" stroke-width="1.9"/>
<line x1="380.70" y1="573.20" x2="386.10" y2="573.20" stroke="#000" stroke-width="1.9949999999999999"/>
<line x1="401.75" y1="608.00" x2="401.75" y2="613.20" stroke="#000" stroke-width="1.9"/>
<line x1="399.05" y1="608.20" x2="404.45" y2="608.20" stroke="#000" stroke-width="1.9949999999999999"/>
<rect x="419.50" y="614.60" width="18.50" height="53.20" fill="#fff" stroke="#000" stroke-width="1.6"/>
<rect x="438.00" y="626.40" width="18.30" height="41.40" fill="url(#dots)" stroke="#000" stroke-width="1.6"/>
<line x1="428.75" y1="613.80" x2="428.75" y2="614.60" stroke="#000" stroke-width="1.9"/>
<line x1="426.05" y1="614.00" x2="431.45" y2="614.00" stroke="#000" stroke-width="1.9949999999999999"/>
<line x1="447.15" y1="624.80" x2="447.15" y2="626.40" stroke="#000" stroke-width="1.9"/>
<line x1="444.45" y1="625.00" x2="449.85" y2="625.00" stroke="#000" stroke-width="1.9949999999999999"/>
<rect x="464.50" y="636.40" width="19.20" height="31.40" fill="#fff" stroke="#000" stroke-width="1.6"/>
<rect x="483.70" y="636.40" width="18.30" height="31.40" fill="url(#dots)" stroke="#000" stroke-width="1.6"/>
<line x1="474.10" y1="631.40" x2="474.10" y2="636.40" stroke="#000" stroke-width="1.9"/>
<line x1="471.40" y1="631.60" x2="476.80" y2="631.60" stroke="#000" stroke-width="1.9949999999999999"/>
<line x1="492.85" y1="632.40" x2="492.85" y2="636.40" stroke="#000" stroke-width="1.9"/>
<line x1="490.15" y1="632.60" x2="495.55" y2="632.60" stroke="#000" stroke-width="1.9949999999999999"/>
<rect x="370.20" y="548.70" width="6.60" height="8.80" fill="#fff" stroke="#000" stroke-width="1.6"/>
<text x="0" y="0" font-size="12.7" text-anchor="start" stroke="#000" stroke-width="0.22" transform="translate(381.20 557.50)">EPDC</text>
<rect x="428.20" y="548.70" width="6.20" height="8.80" fill="url(#dots)" stroke="#000" stroke-width="1.6"/>
<text x="0" y="0" font-size="12.7" text-anchor="start" stroke="#000" stroke-width="0.22" transform="translate(438.80 557.50)">HUVEC</text>
<text x="0" y="0" font-size="11.1" text-anchor="middle" transform="translate(287.60 600.70) rotate(-90)">Percentage of migrated</text>
<text x="0" y="0" font-size="11.1" text-anchor="middle" transform="translate(301.00 600.70) rotate(-90)">cells/control (%)</text>
<text x="0" y="0" font-size="13.8" text-anchor="end" stroke="#000" stroke-width="0.22" transform="translate(317.80 688.50) scale(0.915 1.0)">FGF- 2</text>
<text x="0" y="0" font-size="13.8" text-anchor="end" stroke="#000" stroke-width="0.22" transform="translate(317.80 704.80) scale(0.935 1.0)">VEGF</text>
<text x="0" y="0" font-size="13.8" text-anchor="end" stroke="#000" stroke-width="0.22" transform="translate(317.80 720.50) scale(0.94 1.0)">PlGF</text>
<line x1="347.60" y1="686.00" x2="353.40" y2="686.00" stroke="#000" stroke-width="2.5"/>
<line x1="386.20" y1="685.20" x2="395.80" y2="685.20" stroke="#000" stroke-width="2.4"/>
<line x1="391.00" y1="680.40" x2="391.00" y2="690.00" stroke="#000" stroke-width="2.4"/>
<line x1="438.30" y1="686.00" x2="444.10" y2="686.00" stroke="#000" stroke-width="2.5"/>
<line x1="480.50" y1="686.00" x2="486.30" y2="686.00" stroke="#000" stroke-width="2.5"/>
<line x1="344.60" y1="701.80" x2="350.40" y2="701.80" stroke="#000" stroke-width="2.5"/>
<line x1="388.30" y1="701.80" x2="394.10" y2="701.80" stroke="#000" stroke-width="2.5"/>
<line x1="431.30" y1="700.50" x2="441.90" y2="700.50" stroke="#000" stroke-width="2.4"/>
<line x1="436.60" y1="695.20" x2="436.60" y2="705.80" stroke="#000" stroke-width="2.4"/>
<line x1="480.50" y1="701.80" x2="486.30" y2="701.80" stroke="#000" stroke-width="2.5"/>
<line x1="344.60" y1="717.80" x2="350.40" y2="717.80" stroke="#000" stroke-width="2.5"/>
<line x1="388.30" y1="717.80" x2="394.10" y2="717.80" stroke="#000" stroke-width="2.5"/>
<line x1="434.30" y1="717.80" x2="440.10" y2="717.80" stroke="#000" stroke-width="2.5"/>
<line x1="477.50" y1="716.00" x2="487.50" y2="716.00" stroke="#000" stroke-width="2.4"/>
<line x1="482.50" y1="711.00" x2="482.50" y2="721.00" stroke="#000" stroke-width="2.4"/>
</svg></body></html>
